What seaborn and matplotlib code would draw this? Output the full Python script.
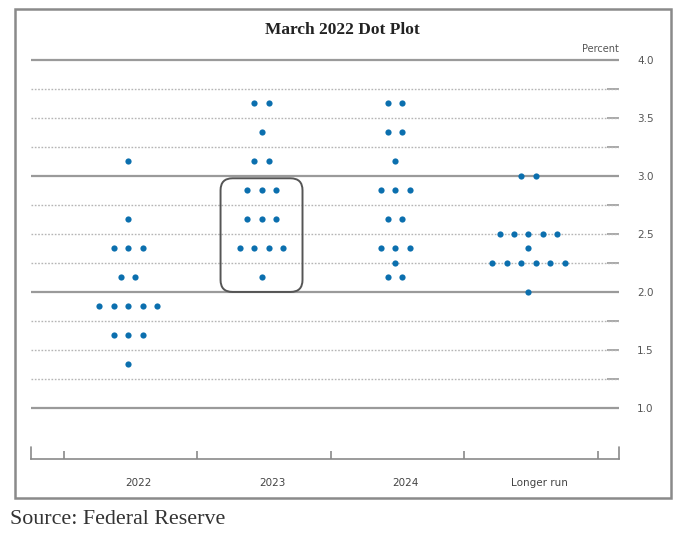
import matplotlib
matplotlib.use("Agg")
import matplotlib.pyplot as plt
import seaborn as sns
import pandas as pd
from collections import Counter
from matplotlib.patches import FancyBboxPatch, Rectangle

# ---- data ----
categories = ["2022", "2023", "2024", "Longer run"]
dots_2022 = [3.125, 2.625, 2.375, 2.375, 2.375, 2.125, 2.125,
             1.875, 1.875, 1.875, 1.875, 1.875, 1.625, 1.625, 1.625, 1.375]
dots_2023 = [3.625, 3.625, 3.375, 3.125, 3.125, 2.875, 2.875, 2.875,
             2.625, 2.625, 2.625, 2.375, 2.375, 2.375, 2.375, 2.125]
dots_2024 = [3.625, 3.625, 3.375, 3.375, 3.125, 2.875, 2.875, 2.875,
             2.625, 2.625, 2.375, 2.375, 2.375, 2.25, 2.125, 2.125]
dots_longer = [3.0, 3.0, 2.5, 2.5, 2.5, 2.5, 2.5, 2.375,
               2.25, 2.25, 2.25, 2.25, 2.25, 2.25, 2.0]
y_ticks = [1.0, 1.5, 2.0, 2.5, 3.0, 3.5, 4.0]
y_tick_labels = ["1.0", "1.5", "2.0", "2.5", "3.0", "3.5", "4.0"]
highlight_box = (1, 2.0, 2.98)  # category index, low, high

# ---- build the table ----
DOT_STEP = 0.1086
rows = []
for ci, vals in enumerate([dots_2022, dots_2023, dots_2024, dots_longer]):
    counts = Counter(vals)
    for v, n in counts.items():
        for i in range(n):
            rows.append({"category": categories[ci],
                         "x": ci + (i - (n - 1) / 2) * DOT_STEP,
                         "value": v})
df = pd.DataFrame(rows)

sns.set_style("white")
plt.rcParams["font.family"] = ["DejaVu Sans"]

fig = plt.figure(figsize=(6.78, 5.45), dpi=100)
ax = fig.add_axes([31 / 678, 1 - 459 / 545, (619 - 31) / 678, (459 - 50) / 545])

XMIN, XMAX = -0.727, 3.678
YMIN, YMAX = 0.56, 4.086
ax.set_xlim(XMIN, XMAX)
ax.set_ylim(YMIN, YMAX)

# gridlines
grid_vals = [1.0 + 0.25 * k for k in range(13)]
for g in grid_vals:
    if abs(g - round(g)) < 1e-9:
        ax.axhline(g, color="#9a9a9a", lw=1.6, zorder=1)
    else:
        ax.axhline(g, color="#b5b5b5", lw=1.0, ls=(0, (1.2, 1.2)), zorder=1)

sns.scatterplot(data=df, x="x", y="value", color="#0b6fae", s=20,
                linewidth=0, ax=ax, legend=False, zorder=3)

# rounded highlight box
ci, lo, hi = highlight_box
bw = 0.614
box = FancyBboxPatch((ci - bw / 2, lo), bw, hi - lo,
                     boxstyle="round,pad=0,rounding_size=0.09",
                     mutation_aspect=1.15, fill=False,
                     edgecolor="#555555", lw=1.4, zorder=4)
ax.add_patch(box)

# spines
for s in ["top", "left", "right"]:
    ax.spines[s].set_visible(False)
ax.spines["bottom"].set_color("#8a8a8a")
ax.spines["bottom"].set_linewidth(1.2)

# x ticks: boundaries (no labels), category labels via minor ticks
bounds = [-0.48, 0.52, 1.52, 2.52, 3.52]
ax.set_xticks(bounds)
ax.set_xticklabels([""] * len(bounds))
ax.tick_params(axis="x", which="major", bottom=True, direction="in",
               length=6, width=1.2, color="#8a8a8a")
ax.set_xticks([i + 0.08 for i in range(len(categories))], minor=True)
ax.set_xticklabels(categories, minor=True)
ax.tick_params(axis="x", which="minor", bottom=True, length=0, pad=14,
               labelsize=7.5, labelcolor="#444444")
for xe in [XMIN, XMAX]:
    ax.plot([xe, xe], [YMIN, YMIN + 0.105], color="#8a8a8a", lw=1.2,
            clip_on=False, zorder=5)
ax.set_xlabel("")

# right y axis
ax.yaxis.tick_right()
ax.set_yticks(grid_vals)
ax.set_yticklabels([y_tick_labels[y_ticks.index(g)] if g in y_ticks else ""
                    for g in grid_vals])
ax.tick_params(axis="y", right=True, direction="in", length=9, width=1.2,
               color="#9a9a9a", pad=13, labelsize=7.5, labelcolor="#555555")
ax.set_ylabel("")

ax.text(1.0, 4.095, "Percent", transform=ax.get_yaxis_transform(),
        ha="right", va="center", fontsize=7, color="#555555")

fig.text(342 / 678, 1 - 30 / 545, "March 2022 Dot Plot", ha="center",
         va="center", fontsize=12.5, fontweight="bold",
         family=["Liberation Serif"], color="#222222")

# outer frame
fig.patches.append(Rectangle((15 / 678, 1 - 498 / 545),
                             (671 - 15) / 678, (498 - 9) / 545,
                             transform=fig.transFigure, fill=False,
                             edgecolor="#8a8a8a", lw=1.8))

fig.text(10 / 678, 1 - 519 / 545, "Source: Federal Reserve", ha="left",
         va="center", fontsize=15.8, family=["Liberation Serif"],
         color="#333333")

fig.savefig("out.png", dpi=100)
